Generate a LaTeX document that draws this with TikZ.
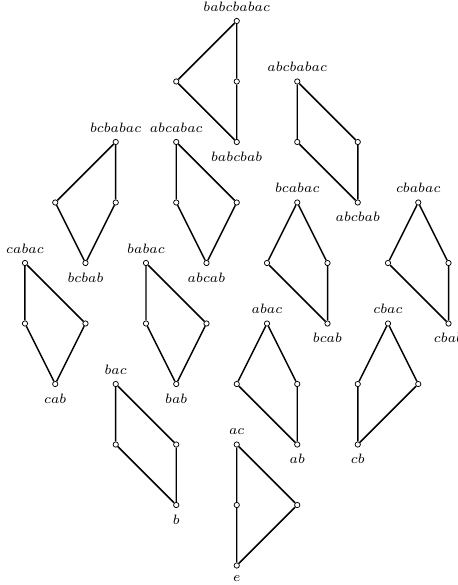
\documentclass[tikz,border=0pt]{standalone}
\usepackage{tikz}
\tikzset{
  vtx/.style={circle, draw, fill=white, line width=0.35pt, inner sep=0pt, minimum size=2.5pt},
  hasse/.style={line width=0.7pt, black},
  wordlabel/.style={font=\scriptsize, scale=0.915, inner sep=0.33em},
  toplab/.style={label={[wordlabel]above:$#1$}},
  botlab/.style={label={[wordlabel]below:$#1$}},
}

\begin{document}
\begin{tikzpicture}
  \useasboundingbox (-0.413,0.347) rectangle (7.141,-9.322);

  % babcbabac
  \node[vtx, toplab=babcbabac] (babcbabac) at (3.5,0) {};
  \node[vtx] (babcbabac-l) at (2.5,-1) {};
  \node[vtx] (babcbabac-r) at (3.5,-1) {};
  \node[vtx, botlab=babcbab] (babcbab) at (3.5,-2) {};
  \draw[hasse] (babcbabac) -- (babcbabac-l) -- (babcbab) -- (babcbabac-r) -- (babcbabac);

  % abcbabac
  \node[vtx, toplab=abcbabac] (abcbabac) at (4.5,-1) {};
  \node[vtx] (abcbabac-l) at (4.5,-2) {};
  \node[vtx] (abcbabac-r) at (5.5,-2) {};
  \node[vtx, botlab=abcbab] (abcbab) at (5.5,-3) {};
  \draw[hasse] (abcbabac) -- (abcbabac-l) -- (abcbab) -- (abcbabac-r) -- (abcbabac);

  % bcbabac
  \node[vtx, toplab=bcbabac] (bcbabac) at (1.5,-2) {};
  \node[vtx] (bcbabac-l) at (0.5,-3) {};
  \node[vtx] (bcbabac-r) at (1.5,-3) {};
  \node[vtx, botlab=bcbab] (bcbab) at (1,-4) {};
  \draw[hasse] (bcbabac) -- (bcbabac-l) -- (bcbab) -- (bcbabac-r) -- (bcbabac);

  % abcabac
  \node[vtx, toplab=abcabac] (abcabac) at (2.5,-2) {};
  \node[vtx] (abcabac-l) at (2.5,-3) {};
  \node[vtx] (abcabac-r) at (3.5,-3) {};
  \node[vtx, botlab=abcab] (abcab) at (3,-4) {};
  \draw[hasse] (abcabac) -- (abcabac-l) -- (abcab) -- (abcabac-r) -- (abcabac);

  % bcabac
  \node[vtx, toplab=bcabac] (bcabac) at (4.5,-3) {};
  \node[vtx] (bcabac-l) at (4,-4) {};
  \node[vtx] (bcabac-r) at (5,-4) {};
  \node[vtx, botlab=bcab] (bcab) at (5,-5) {};
  \draw[hasse] (bcabac) -- (bcabac-l) -- (bcab) -- (bcabac-r) -- (bcabac);

  % cbabac
  \node[vtx, toplab=cbabac] (cbabac) at (6.5,-3) {};
  \node[vtx] (cbabac-l) at (6,-4) {};
  \node[vtx] (cbabac-r) at (7,-4) {};
  \node[vtx, botlab=cbab] (cbab) at (7,-5) {};
  \draw[hasse] (cbabac) -- (cbabac-l) -- (cbab) -- (cbabac-r) -- (cbabac);

  % cabac
  \node[vtx, toplab=cabac] (cabac) at (0,-4) {};
  \node[vtx] (cabac-l) at (0,-5) {};
  \node[vtx] (cabac-r) at (1,-5) {};
  \node[vtx, botlab=cab] (cab) at (0.5,-6) {};
  \draw[hasse] (cabac) -- (cabac-l) -- (cab) -- (cabac-r) -- (cabac);

  % babac
  \node[vtx, toplab=babac] (babac) at (2,-4) {};
  \node[vtx] (babac-l) at (2,-5) {};
  \node[vtx] (babac-r) at (3,-5) {};
  \node[vtx, botlab=bab] (bab) at (2.5,-6) {};
  \draw[hasse] (babac) -- (babac-l) -- (bab) -- (babac-r) -- (babac);

  % abac
  \node[vtx, toplab=abac] (abac) at (4,-5) {};
  \node[vtx] (abac-l) at (3.5,-6) {};
  \node[vtx] (abac-r) at (4.5,-6) {};
  \node[vtx, botlab=ab] (ab) at (4.5,-7) {};
  \draw[hasse] (abac) -- (abac-l) -- (ab) -- (abac-r) -- (abac);

  % cbac
  \node[vtx, toplab=cbac] (cbac) at (6,-5) {};
  \node[vtx] (cbac-l) at (5.5,-6) {};
  \node[vtx] (cbac-r) at (6.5,-6) {};
  \node[vtx, botlab=cb] (cb) at (5.5,-7) {};
  \draw[hasse] (cbac) -- (cbac-l) -- (cb) -- (cbac-r) -- (cbac);

  % bac
  \node[vtx, toplab=bac] (bac) at (1.5,-6) {};
  \node[vtx] (bac-l) at (1.5,-7) {};
  \node[vtx] (bac-r) at (2.5,-7) {};
  \node[vtx, botlab=b] (b) at (2.5,-8) {};
  \draw[hasse] (bac) -- (bac-l) -- (b) -- (bac-r) -- (bac);

  % ac
  \node[vtx, toplab=ac] (ac) at (3.5,-7) {};
  \node[vtx] (ac-l) at (3.5,-8) {};
  \node[vtx] (ac-r) at (4.5,-8) {};
  \node[vtx, botlab=e] (e) at (3.5,-9) {};
  \draw[hasse] (ac) -- (ac-l) -- (e) -- (ac-r) -- (ac);
\end{tikzpicture}
\end{document}
